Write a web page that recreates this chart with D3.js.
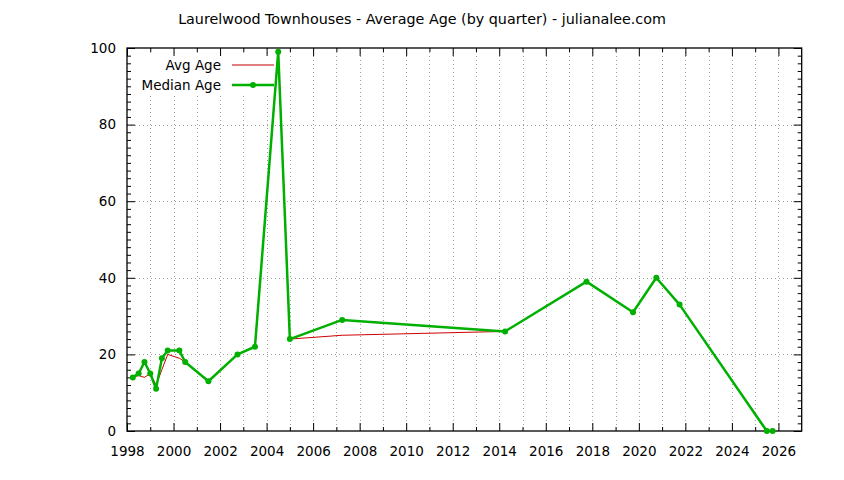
<!DOCTYPE html>
<html>
<head>
<meta charset="utf-8">
<script src="https://cdn.jsdelivr.net/npm/d3@7"></script>
<style>
  body { margin: 0; background: #fff; }
  svg { display: block; font-family: "DejaVu Sans", sans-serif; }
</style>
</head>
<body>
<div id="chart"></div>
<script>
// quarter dates (decimal year) and the two series
var quarters = [1998.25, 1998.5, 1998.75, 1999.0, 1999.25, 1999.5, 1999.75, 2000.25, 2000.5, 2001.5,
                2002.75, 2003.5, 2004.5, 2005.0, 2007.25, 2014.25, 2017.75, 2019.75, 2020.75, 2021.75,
                2025.5, 2025.75];
var avgAge    = [14, 14.5, 14, 15, 12, 16, 20, 19, 18, 13, 20, 22, 99, 24, 25, 26, 39, 31, 40, 33, 0, 0];
var medianAge = [14, 15, 18, 15, 11, 19, 21, 21, 18, 13, 20, 22, 99, 24, 29, 26, 39, 31, 40, 33, 0, 0];

var xMajor = d3.range(1998, 2027, 2);
var xMinor = d3.range(1999, 2027, 2);
var yMajor = d3.range(0, 101, 20);
var yMinor = d3.range(0, 101, 2).filter(function(v) { return v % 20 != 0; });

var title = "Laurelwood Townhouses - Average Age (by quarter) - julianalee.com";
var seriesNames = ["Avg Age", "Median Age"];

var width = 844, height = 480;
var plotLeft = 127, plotRight = 801.7, plotTop = 48, plotBottom = 431;
var fs = 13.5;

var svg = d3.select("#chart").append("svg")
  .attr("width", width)
  .attr("height", height);

var x = d3.scaleLinear().domain([1998, 2027]).range([plotLeft, plotRight]);
var y = d3.scaleLinear().domain([0, 100]).range([plotBottom, plotTop]);

// grid (dotted)
var grid = svg.append("g")
  .attr("stroke", "#a0a0a0")
  .attr("stroke-width", 1)
  .attr("stroke-dasharray", "1,3");
grid.selectAll(".gx")
  .data(d3.range(1999, 2027))
  .enter().append("line")
    .attr("x1", d => Math.round(x(d)) + 0.5)
    .attr("x2", d => Math.round(x(d)) + 0.5)
    .attr("y1", plotTop)
    .attr("y2", plotBottom);
grid.selectAll(".gy")
  .data([20, 40, 60, 80])
  .enter().append("line")
    .attr("x1", plotLeft)
    .attr("x2", plotRight)
    .attr("y1", d => Math.round(y(d)) + 0.5)
    .attr("y2", d => Math.round(y(d)) + 0.5);

// axes: ticks pointing inward, mirrored on top and right
function styleAxis(g) {
  g.select(".domain").remove();
  g.selectAll(".tick line").attr("stroke", "#000").attr("stroke-width", 1);
  g.selectAll("text").attr("font-size", fs).attr("fill", "#000").attr("font-family", "DejaVu Sans, sans-serif");
}

svg.append("g")
  .attr("transform", "translate(0," + plotBottom + ")")
  .call(d3.axisBottom(x).tickValues(xMajor).tickSize(-8).tickPadding(15).tickFormat(d3.format("d")))
  .call(styleAxis);
svg.append("g")
  .attr("transform", "translate(0," + plotBottom + ")")
  .call(d3.axisBottom(x).tickValues(xMinor).tickSize(-4).tickFormat(""))
  .call(styleAxis);
svg.append("g")
  .attr("transform", "translate(0," + plotTop + ")")
  .call(d3.axisTop(x).tickValues(xMajor).tickSize(-8).tickFormat(""))
  .call(styleAxis);
svg.append("g")
  .attr("transform", "translate(0," + plotTop + ")")
  .call(d3.axisTop(x).tickValues(xMinor).tickSize(-4).tickFormat(""))
  .call(styleAxis);

svg.append("g")
  .attr("transform", "translate(" + plotLeft + ",0)")
  .call(d3.axisLeft(y).tickValues(yMajor).tickSize(-8).tickPadding(11))
  .call(styleAxis);
svg.append("g")
  .attr("transform", "translate(" + plotLeft + ",0)")
  .call(d3.axisLeft(y).tickValues(yMinor).tickSize(-4).tickFormat(""))
  .call(styleAxis);
svg.append("g")
  .attr("transform", "translate(" + plotRight + ",0)")
  .call(d3.axisRight(y).tickValues(yMajor).tickSize(-8).tickFormat(""))
  .call(styleAxis);
svg.append("g")
  .attr("transform", "translate(" + plotRight + ",0)")
  .call(d3.axisRight(y).tickValues(yMinor).tickSize(-4).tickFormat(""))
  .call(styleAxis);

// border
svg.append("rect")
  .attr("x", plotLeft)
  .attr("y", plotTop)
  .attr("width", plotRight - plotLeft)
  .attr("height", plotBottom - plotTop)
  .attr("fill", "none")
  .attr("stroke", "#000")
  .attr("stroke-width", 1.3);

// title
svg.append("text")
  .attr("x", width / 2)
  .attr("y", 24)
  .attr("text-anchor", "middle")
  .attr("font-size", 14.3)
  .text(title);

// key (opaque box behind it)
svg.append("rect")
  .attr("x", 135)
  .attr("y", 56)
  .attr("width", 147)
  .attr("height", 39)
  .attr("fill", "#fff");

var keyY = [65, 85];
svg.selectAll(".key-text")
  .data(seriesNames)
  .enter().append("text")
    .attr("class", "key-text")
    .attr("x", 221)
    .attr("y", (d, i) => keyY[i] + 5)
    .attr("text-anchor", "end")
    .attr("font-size", fs)
    .text(d => d);

svg.append("line")
  .attr("x1", 232).attr("x2", 274)
  .attr("y1", keyY[0]).attr("y2", keyY[0])
  .attr("stroke", "#c00000").attr("stroke-width", 1);
svg.append("line")
  .attr("x1", 232).attr("x2", 274)
  .attr("y1", keyY[1]).attr("y2", keyY[1])
  .attr("stroke", "#00b000").attr("stroke-width", 2.5);
svg.append("circle")
  .attr("cx", 253).attr("cy", keyY[1]).attr("r", 3)
  .attr("fill", "#00b000");

// series
var line = d3.line()
  .x(d => x(d[0]))
  .y(d => y(d[1]));

var avgPts = quarters.map((q, i) => [q, avgAge[i]]);
var medPts = quarters.map((q, i) => [q, medianAge[i]]);

svg.append("path")
  .datum(avgPts)
  .attr("d", line)
  .attr("fill", "none")
  .attr("stroke", "#d00000")
  .attr("stroke-width", 1);

svg.append("path")
  .datum(medPts)
  .attr("d", line)
  .attr("fill", "none")
  .attr("stroke", "#00b000")
  .attr("stroke-width", 2.5)
  .attr("stroke-linejoin", "round");

svg.selectAll(".pt")
  .data(medPts)
  .enter().append("circle")
    .attr("class", "pt")
    .attr("cx", d => x(d[0]))
    .attr("cy", d => y(d[1]))
    .attr("r", 3)
    .attr("fill", "#00b000");
</script>
</body>
</html>
